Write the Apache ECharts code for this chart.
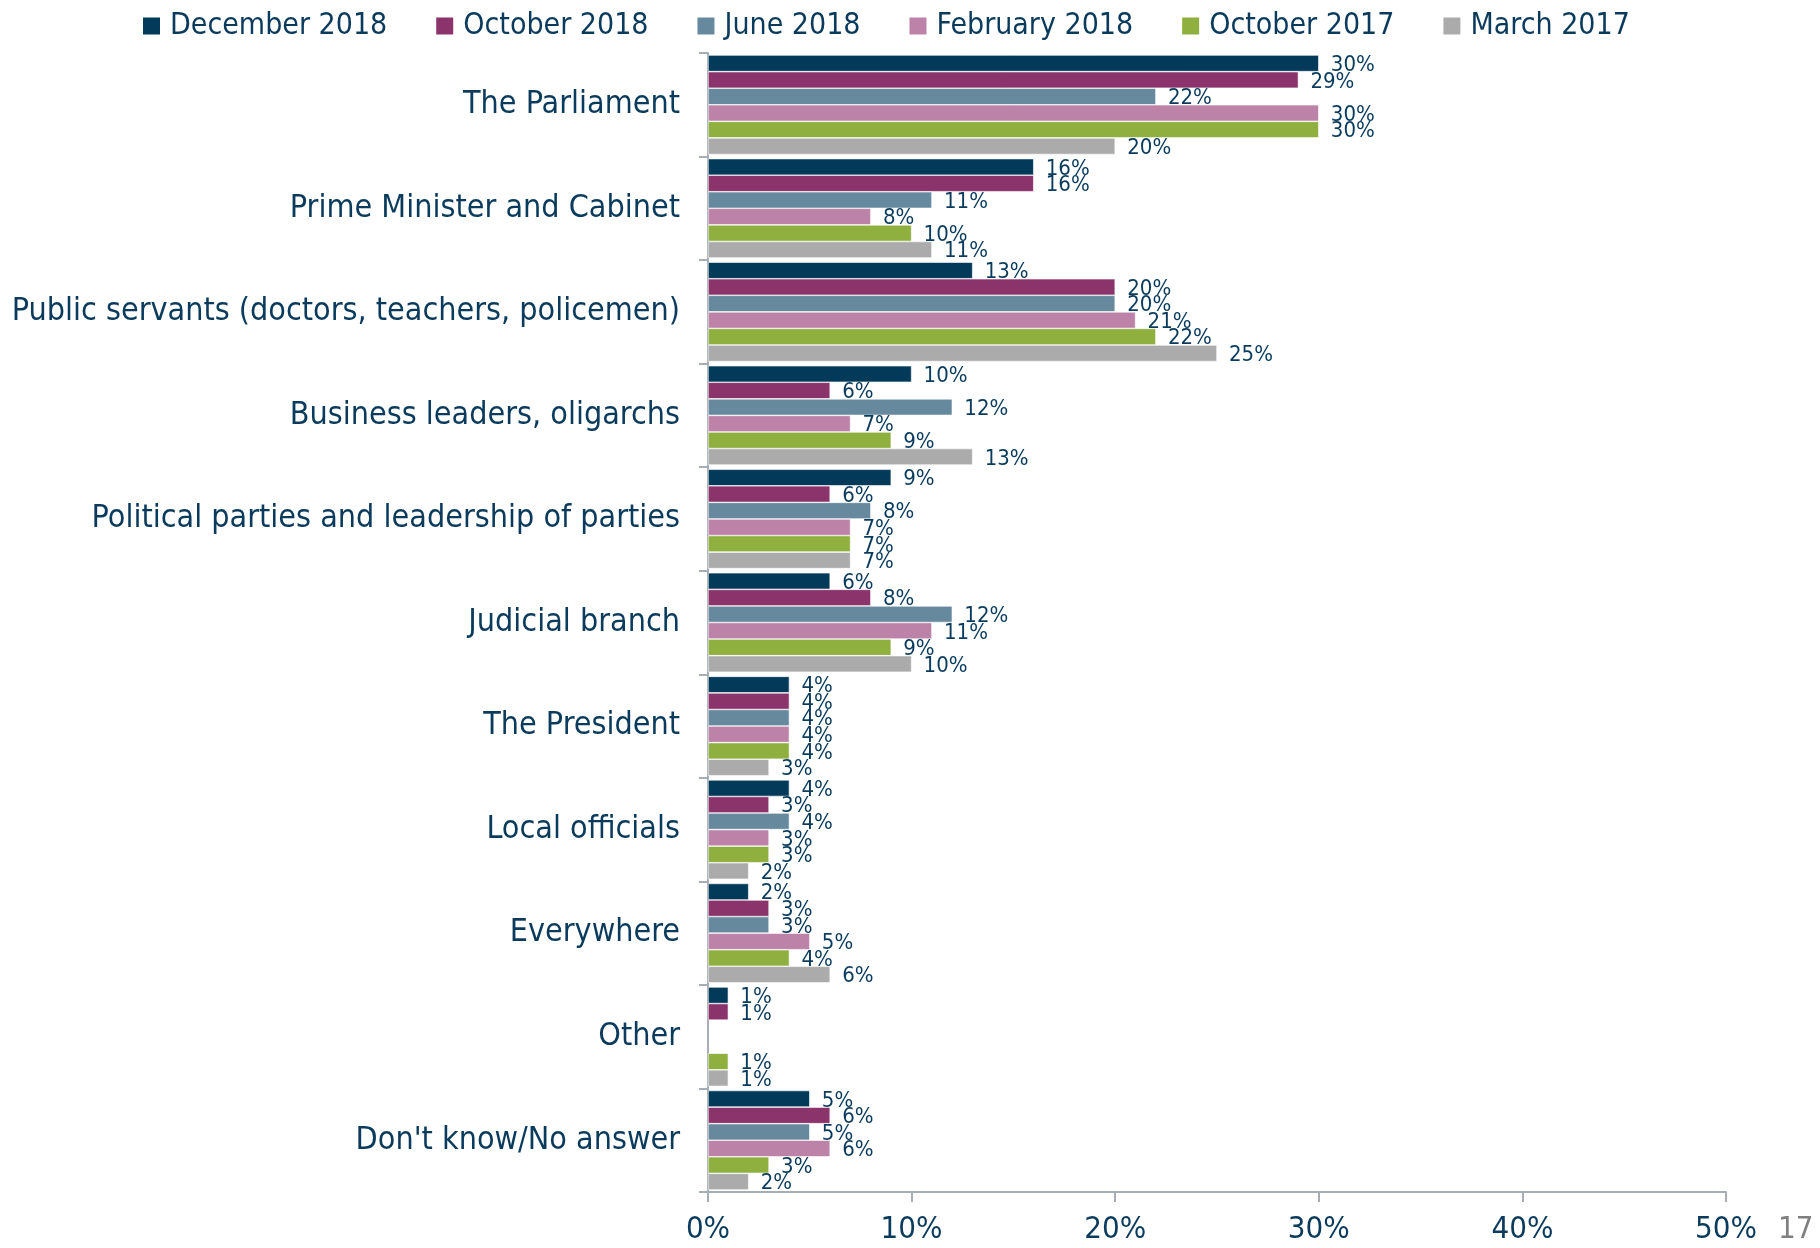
<!DOCTYPE html>
<html lang="en">
<head>
<meta charset="UTF-8">
<title>Corruption perception</title>
<script src="https://cdn.jsdelivr.net/npm/echarts@6/dist/echarts.min.js"></script>
<style>
  html, body { margin: 0; padding: 0; background: #fff; }
  #main { width: 1820px; height: 1248px; }
</style>
</head>
<body>
<div id="main"></div>
<script>
// categories, top to bottom
var categories = [
  'The Parliament',
  'Prime Minister and Cabinet',
  'Public servants (doctors, teachers, policemen)',
  'Business leaders, oligarchs',
  'Political parties and leadership of parties',
  'Judicial branch',
  'The President',
  'Local officials',
  'Everywhere',
  'Other',
  "Don't know/No answer"
];

var waves = ['December 2018', 'October 2018', 'June 2018', 'February 2018', 'October 2017', 'March 2017'];

var dec2018 = [30, 16, 13, 10, 9, 6, 4, 4, 2, 1, 5];
var oct2018 = [29, 16, 20, 6, 6, 8, 4, 3, 3, 1, 6];
var jun2018 = [22, 11, 20, 12, 8, 12, 4, 4, 3, null, 5];
var feb2018 = [30, 8, 21, 7, 7, 11, 4, 3, 5, null, 6];
var oct2017 = [30, 10, 22, 9, 7, 9, 4, 3, 4, 1, 3];
var mar2017 = [20, 11, 25, 13, 7, 10, 3, 2, 6, 1, 2];

var xTicks = [0, 10, 20, 30, 40, 50];

var colors = ['#033a5a', '#8b336b', '#66899d', '#bc82a8', '#8faf3e', '#ababab'];
var textColor = '#0b3b5c';
var mainFont = '"DejaVu Sans Condensed", "DejaVu Sans", sans-serif';

var values = [dec2018, oct2018, jun2018, feb2018, oct2017, mar2017];

var series = waves.map(function (name, i) {
  return {
    name: name,
    type: 'bar',
    data: values[i],
    barGap: '0%',
    barCategoryGap: '4%',
    itemStyle: { color: colors[i], borderColor: '#ffffff', borderWidth: 0.6 },
    label: {
      show: true,
      position: 'right',
      distance: 12,
      offset: [0, 2],
      formatter: '{c}%',
      color: textColor,
      fontFamily: mainFont,
      fontSize: 22
    }
  };
});

var chart = echarts.init(document.getElementById('main'));
chart.setOption({
  animation: false,
  color: colors,
  legend: {
    data: waves,
    top: 6,
    left: 136,
    itemWidth: 19,
    itemHeight: 19,
    itemGap: 47,
    icon: 'rect',
    textStyle: { color: textColor, fontSize: 30, fontFamily: mainFont, padding: [0, 0, 0, 4] }
  },
  grid: { left: 708, right: 94, top: 53, bottom: 56, containLabel: false },
  xAxis: {
    type: 'value',
    min: xTicks[0],
    max: xTicks[xTicks.length - 1],
    interval: 10,
    splitLine: { show: false },
    axisLine: { show: true, lineStyle: { color: '#a7adb5', width: 2 } },
    axisTick: { show: true, length: 10, lineStyle: { color: '#a7adb5', width: 2 } },
    axisLabel: {
      formatter: '{value}%',
      color: textColor,
      fontSize: 31,
      fontFamily: mainFont,
      margin: 22
    }
  },
  yAxis: {
    type: 'category',
    data: categories,
    inverse: true,
    axisLine: { show: true, lineStyle: { color: '#a7adb5', width: 2 } },
    axisTick: { show: true, length: 9, lineStyle: { color: '#a7adb5', width: 2 } },
    axisLabel: {
      color: textColor,
      fontSize: 32,
      fontFamily: mainFont,
      margin: 28
    }
  },
  graphic: [{
    type: 'text',
    left: 1778,
    top: 1214,
    style: { text: '17', fill: '#808080', fontSize: 31, fontFamily: mainFont }
  }],
  series: series
});
</script>
</body>
</html>
